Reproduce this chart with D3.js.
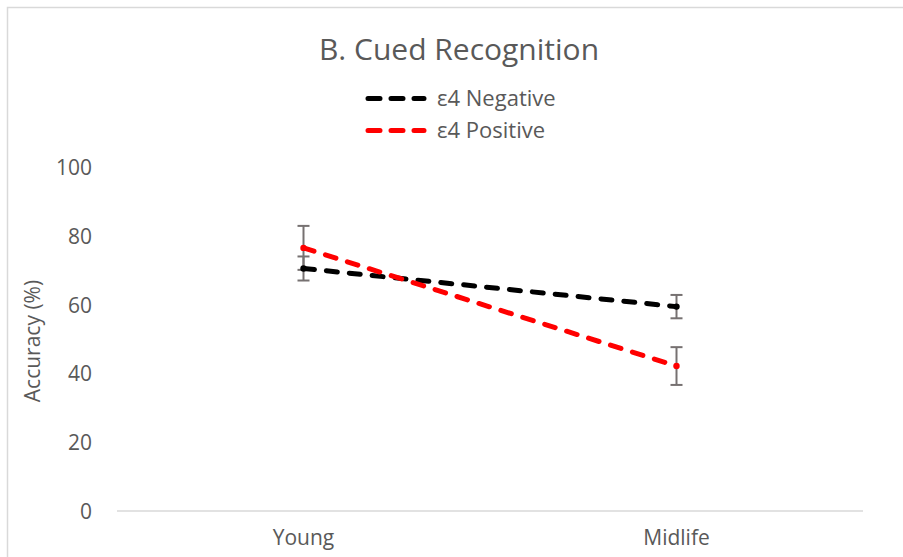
<!DOCTYPE html>
<html><head><meta charset="utf-8">
<script src="https://cdn.jsdelivr.net/npm/d3@7"></script>
<style>body{margin:0;background:#fff}svg{display:block}text{font-family:"Open Sans","Noto Sans",sans-serif;fill:#595959}</style>
</head><body><svg id="c" width="903" height="557"></svg>
<script>
const categories = ["Young", "Midlife"];
const seriesNames = ["ε4 Negative", "ε4 Positive"];
const negativeValues = [70.6, 59.5];
const negativeErrors = [3.5, 3.4];
const positiveValues = [76.6, 42.2];
const positiveErrors = [6.4, 5.5];
const yTicks = [0, 20, 40, 60, 80, 100];
const colors = ["#000000", "#ff0000"];

const FONT = '"Open Sans","Noto Sans",sans-serif';
const svg = d3.select("#c");
svg.append("rect").attr("x",7.5).attr("y",7.5).attr("width",1000).attr("height",1000)
  .attr("fill","none").attr("stroke","#d9d9d9").attr("stroke-width",1.5);

const x = d3.scaleBand().domain(categories).range([117, 863]);
const y = d3.scaleLinear().domain([0, 100]).range([511, 167.5]);

svg.append("line").attr("x1",117).attr("x2",863).attr("y1",y(0)).attr("y2",y(0))
  .attr("stroke","#d9d9d9").attr("stroke-width",1.5);

const yAxis = d3.axisLeft(y).tickValues(yTicks).tickSize(0).tickPadding(0);
const gy = svg.append("g").attr("transform","translate(92,0)").call(yAxis);
gy.select(".domain").remove();
gy.selectAll("text").style("font-size","21px").style("fill","#595959").attr("dy","0.35em")
  .style("font-family",FONT);

const xAxis = d3.axisBottom(x).tickSize(0).tickPadding(0);
const gx = svg.append("g").attr("transform","translate(0,530)").call(xAxis);
gx.select(".domain").remove();
gx.selectAll("text").style("font-size","21px").style("fill","#595959").attr("dy","0.72em")
  .style("font-family",FONT);

svg.append("text").attr("transform","translate(40,341) rotate(-90)").attr("text-anchor","middle")
  .style("font-size","21px").text("Accuracy (%)");

svg.append("text").attr("x",459).attr("y",60).attr("text-anchor","middle")
  .style("font-size","30px").text("B. Cued Recognition");

const series = [
  {name: seriesNames[0], vals: negativeValues, errs: negativeErrors, color: colors[0]},
  {name: seriesNames[1], vals: positiveValues, errs: positiveErrors, color: colors[1]}
];
const cx = c => x(c) + x.bandwidth()/2;

series.forEach(s => {
  categories.forEach((c,i) => {
    const g = svg.append("g").attr("stroke","#767171").attr("stroke-width",2);
    const xc = cx(c);
    g.append("line").attr("x1",xc).attr("x2",xc).attr("y1",y(s.vals[i]+s.errs[i])).attr("y2",y(s.vals[i]-s.errs[i]));
    g.append("line").attr("x1",xc-6).attr("x2",xc+6).attr("y1",y(s.vals[i]+s.errs[i])).attr("y2",y(s.vals[i]+s.errs[i]));
    g.append("line").attr("x1",xc-6).attr("x2",xc+6).attr("y1",y(s.vals[i]-s.errs[i])).attr("y2",y(s.vals[i]-s.errs[i]));
  });
});

const line = d3.line().x((d,i)=>cx(categories[i])).y(d=>y(d));
series.forEach(s => {
  svg.append("path").attr("d", line(s.vals)).attr("fill","none").attr("stroke",s.color)
    .attr("stroke-width",5).attr("stroke-linecap","round").attr("stroke-dasharray","11,12");
  categories.forEach((c,i)=>{
    svg.append("circle").attr("cx",cx(c)).attr("cy",y(s.vals[i])).attr("r",3.2).attr("fill",s.color);
  });
});

series.forEach((s,i) => {
  const ly = 98.5 + i*32;
  svg.append("line").attr("x1",368).attr("x2",424).attr("y1",ly).attr("y2",ly)
    .attr("stroke",s.color).attr("stroke-width",5).attr("stroke-linecap","round").attr("stroke-dasharray","12,11");
  svg.append("text").attr("x",437).attr("y",ly).attr("dy","0.35em").style("font-size","22px").text(s.name);
});
</script></body></html>
